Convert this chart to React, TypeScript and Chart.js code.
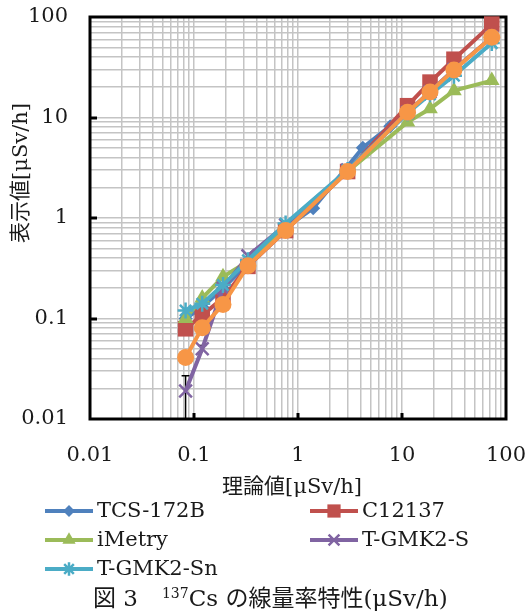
import React, { useEffect, useRef } from 'react';
import { Chart, registerables } from 'chart.js';

Chart.register(...registerables);

// ---- data ----
const theoretical = [0.083, 0.12, 0.19, 0.33, 0.76, 3.0, 11.3, 18.6, 31.6, 73];
const tcsTheoretical = [0.083, 0.12, 0.19, 0.33, 0.76, 1.4, 4.2, 7.7, 11.3];
const tcs172b = [0.1, 0.13, 0.2, 0.35, 0.8, 1.25, 5.0, 8.2, 11.3];
const c12137 = [0.079, 0.108, 0.16, 0.33, 0.75, 2.9, 13.1, 22.5, 38, 85];
const iMetry = [0.1, 0.16, 0.26, 0.37, 0.8, 2.9, 9.0, 12.2, 18.5, 23.3];
const tgmk2s = [0.019, 0.05, 0.2, 0.42, 0.85, 3.0, 11.3, 18, 30, 63];
const tgmk2sErrHigh = [0.027, 0.054];
const tgmk2sErrLow = [0.0101, 0.046];
const tgmk2sn = [0.12, 0.14, 0.215, 0.38, 0.88, 3.0, 11, 17, 26, 55];
const reference = [0.041, 0.081, 0.138, 0.335, 0.75, 2.9, 11.3, 17.9, 29.7, 63];

const decadeValues = [0.01, 0.1, 1, 10, 100];
const decadeLabels = ['0.01', '0.1', '1', '10', '100'];
const gridSteps = [1, 2, 3, 4, 5, 6, 7, 8, 9];

const xTitle = '理論値[μSv/h]';
const yTitle = '表示値[μSv/h]';

const LATIN = '"DejaVu Serif", "Liberation Serif", "Noto Sans CJK JP", serif';

const tickValues: number[] = [];
decadeValues.slice(0, 4).forEach((d) => gridSteps.forEach((s) => tickValues.push(Number((d * s).toPrecision(3)))));
tickValues.push(100);

const labelFor = (v: number) => {
  const i = decadeValues.findIndex((d) => Math.abs(d - v) / d < 1e-6);
  return i >= 0 ? decadeLabels[i] : '';
};

const pts = (xs: number[], ys: number[]) => ys.map((y, i) => ({ x: xs[i], y }));

type Series = {
  label: string;
  color: string;
  style: string;
  radius: number;
  xs: number[];
  ys: number[];
  legend: boolean;
  order: number;
};

const series: Series[] = [
  { label: 'TCS-172B', color: '#4F81BD', style: 'rectRot', radius: 7, xs: tcsTheoretical, ys: tcs172b, legend: true, order: 5 },
  { label: 'C12137', color: '#C0504D', style: 'rect', radius: 11, xs: theoretical, ys: c12137, legend: true, order: 4 },
  { label: 'iMetry', color: '#9BBB59', style: 'triangle', radius: 9, xs: theoretical, ys: iMetry, legend: true, order: 3 },
  { label: 'T-GMK2-S', color: '#8064A2', style: 'crossRot', radius: 9, xs: theoretical, ys: tgmk2s, legend: true, order: 2 },
  { label: 'T-GMK2-Sn', color: '#4BACC6', style: 'star', radius: 8, xs: theoretical, ys: tgmk2sn, legend: true, order: 1 },
  { label: '', color: '#F79646', style: 'circle', radius: 8.5, xs: theoretical, ys: reference, legend: false, order: 0 },
];

function drawMarker(ctx: CanvasRenderingContext2D, style: string, x: number, y: number, r: number, color: string) {
  ctx.save();
  ctx.fillStyle = color;
  ctx.strokeStyle = color;
  ctx.lineWidth = 2.5;
  ctx.beginPath();
  if (style === 'rectRot') {
    ctx.moveTo(x, y - r);
    ctx.lineTo(x + r, y);
    ctx.lineTo(x, y + r);
    ctx.lineTo(x - r, y);
    ctx.closePath();
    ctx.fill();
  } else if (style === 'rect') {
    const s = r / Math.SQRT2;
    ctx.rect(x - s, y - s, 2 * s, 2 * s);
    ctx.fill();
  } else if (style === 'triangle') {
    const w = r * Math.sqrt(3) / 2;
    ctx.moveTo(x, y - r);
    ctx.lineTo(x + w, y + r / 2);
    ctx.lineTo(x - w, y + r / 2);
    ctx.closePath();
    ctx.fill();
  } else if (style === 'crossRot') {
    const o = r * Math.SQRT1_2;
    ctx.moveTo(x - o, y - o);
    ctx.lineTo(x + o, y + o);
    ctx.moveTo(x - o, y + o);
    ctx.lineTo(x + o, y - o);
    ctx.stroke();
  } else if (style === 'star') {
    const o = r * Math.SQRT1_2;
    ctx.moveTo(x - o, y - o);
    ctx.lineTo(x + o, y + o);
    ctx.moveTo(x - o, y + o);
    ctx.lineTo(x + o, y - o);
    ctx.moveTo(x, y - r);
    ctx.lineTo(x, y + r);
    ctx.moveTo(x - r, y);
    ctx.lineTo(x + r, y);
    ctx.stroke();
  } else {
    ctx.arc(x, y, r, 0, Math.PI * 2);
    ctx.fill();
  }
  ctx.restore();
}

const framePlugin = {
  id: 'frame',
  beforeDatasetsDraw(chart: any) {
    const ctx: CanvasRenderingContext2D = chart.ctx;
    const { left, right, top, bottom } = chart.chartArea;
    const xs = chart.scales.x;
    const ys = chart.scales.y;
    ctx.save();
    ctx.strokeStyle = '#000';
    ctx.lineWidth = 3;
    decadeValues.slice(1, 4).forEach((v) => {
      const px = Math.round(xs.getPixelForValue(v));
      ctx.beginPath();
      ctx.moveTo(px, bottom);
      ctx.lineTo(px, bottom - 6);
      ctx.stroke();
      const py = Math.round(ys.getPixelForValue(v));
      ctx.beginPath();
      ctx.moveTo(left, py);
      ctx.lineTo(left + 7, py);
      ctx.stroke();
    });
    ctx.lineWidth = 1.5;
    tgmk2sErrHigh.forEach((hi, i) => {
      const px = xs.getPixelForValue(theoretical[i]);
      const pyHi = ys.getPixelForValue(hi);
      const pyLo = Math.min(ys.getPixelForValue(tgmk2sErrLow[i]), bottom);
      ctx.beginPath();
      ctx.moveTo(px, pyHi);
      ctx.lineTo(px, pyLo);
      ctx.moveTo(px - 4, pyHi);
      ctx.lineTo(px + 4, pyHi);
      ctx.stroke();
    });
    ctx.lineWidth = 3;
    ctx.strokeRect(left, top, right - left, bottom - top);
    ctx.restore();
  },
  afterDraw(chart: any) {
    const ctx: CanvasRenderingContext2D = chart.ctx;
    const { left, right } = chart.chartArea;
    ctx.save();
    ctx.fillStyle = '#1a1a1a';
    ctx.textBaseline = 'middle';
    ctx.font = '21px ' + LATIN;
    ctx.textAlign = 'center';
    ctx.fillText(xTitle, (left + right) / 2 - 6, 488);
    ctx.save();
    ctx.translate(22, 173);
    ctx.rotate(-Math.PI / 2);
    ctx.fillText(yTitle, 0, 0);
    ctx.restore();
    const cols = [45, 310];
    const rows = [511, 540, 569];
    ctx.textAlign = 'left';
    series.filter((s) => s.legend).forEach((s, i) => {
      const x0 = cols[i % 2];
      const y0 = rows[Math.floor(i / 2)];
      ctx.strokeStyle = s.color;
      ctx.lineWidth = 4;
      ctx.beginPath();
      ctx.moveTo(x0, y0);
      ctx.lineTo(x0 + 48, y0);
      ctx.stroke();
      drawMarker(ctx, s.style, x0 + 24, y0, s.radius * 0.85, s.color);
      ctx.fillStyle = '#1a1a1a';
      ctx.font = '21px ' + LATIN;
      ctx.fillText(s.label, x0 + 52, y0 + 1);
    });
    ctx.restore();
  },
};

export default function App() {
  const canvasRef = useRef<HTMLCanvasElement | null>(null);

  useEffect(() => {
    if (!canvasRef.current) return;
    const chart = new Chart(canvasRef.current, {
      type: 'line',
      data: {
        datasets: series.map((s) => ({
          label: s.label,
          data: pts(s.xs, s.ys),
          borderColor: s.color,
          backgroundColor: s.color,
          pointBackgroundColor: s.color,
          pointBorderColor: s.color,
          pointBorderWidth: s.style === 'crossRot' || s.style === 'star' ? 2.5 : 0,
          pointStyle: s.style as any,
          pointRadius: s.radius,
          borderWidth: 4,
          tension: 0,
          order: s.order,
          clip: 14,
        })),
      },
      options: {
        animation: false,
        responsive: false,
        layout: { padding: { left: 0, right: 22, top: 17, bottom: 143 } },
        plugins: { legend: { display: false }, tooltip: { enabled: false } },
        scales: {
          x: {
            type: 'logarithmic',
            min: 0.01,
            max: 100,
            border: { display: false },
            grid: { color: '#c4c4c4', lineWidth: 1.5, drawTicks: true, tickLength: 24, tickColor: 'rgba(0,0,0,0)' },
            afterBuildTicks: (scale: any) => {
              scale.ticks = tickValues.map((v) => ({ value: v }));
            },
            afterFit: (scale: any) => {
              scale.height = 50;
            },
            ticks: {
              autoSkip: false,
              maxRotation: 0,
              padding: 0,
              color: '#1a1a1a',
              font: { family: LATIN, size: 21 },
              callback: (v: any) => labelFor(Number(v)),
            },
          },
          y: {
            type: 'logarithmic',
            min: 0.01,
            max: 100,
            border: { display: false },
            grid: { color: '#c4c4c4', lineWidth: 1.5, drawTicks: true, tickLength: 22, tickColor: 'rgba(0,0,0,0)' },
            afterBuildTicks: (scale: any) => {
              scale.ticks = tickValues.map((v) => ({ value: v }));
            },
            afterFit: (scale: any) => {
              scale.width = 90;
            },
            ticks: {
              autoSkip: false,
              padding: 0,
              color: '#1a1a1a',
              font: { family: LATIN, size: 21 },
              callback: (v: any) => labelFor(Number(v)),
            },
          },
        },
      } as any,
      plugins: [framePlugin],
    });
    return () => chart.destroy();
  }, []);

  return (
    <div style={{ position: 'fixed', left: 0, top: 0, width: 528, height: 612, background: '#fff' }}>
      <canvas ref={canvasRef} width={528} height={612} style={{ display: 'block', width: 528, height: 612 }} />
      <div
        style={{
          position: 'absolute',
          left: 93,
          top: 584,
          height: 28,
          lineHeight: '28px',
          fontFamily: LATIN,
          fontSize: 23,
          color: '#1a1a1a',
          whiteSpace: 'nowrap',
        }}
      >
        <span>図 3</span>
        <span style={{ marginLeft: 24 }}>
          <sup style={{ fontSize: 14, verticalAlign: 'top', lineHeight: '18px' }}>137</sup>Cs の線量率特性(μSv/h)
        </span>
      </div>
    </div>
  );
}
